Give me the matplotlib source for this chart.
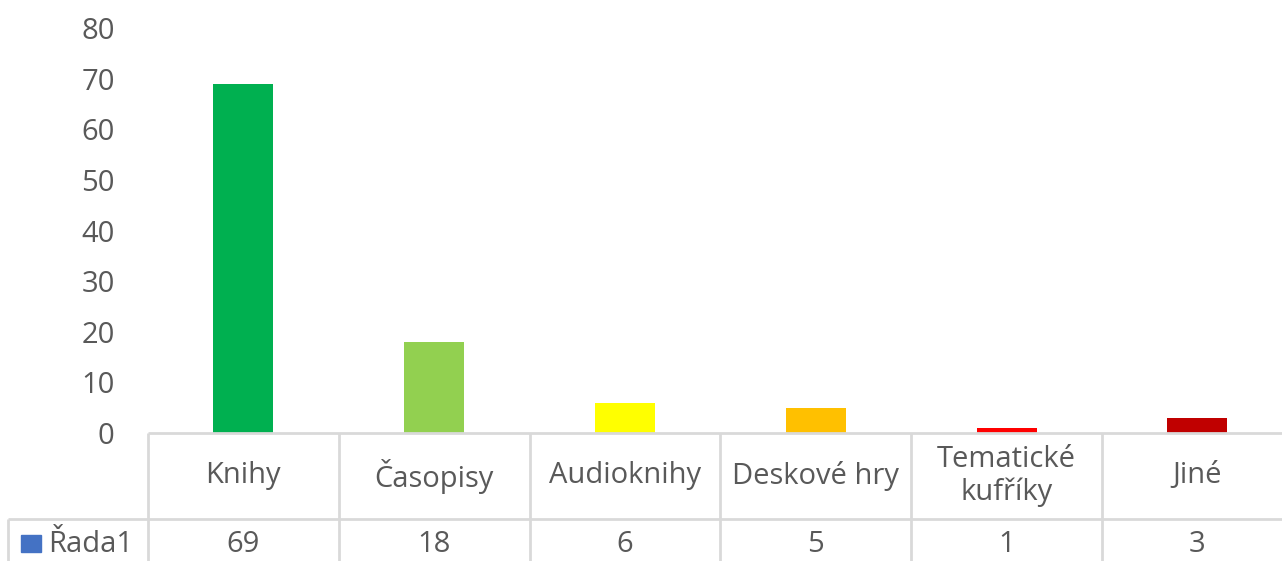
import matplotlib.pyplot as plt

# data
kategorie = ['Knihy', 'Časopisy', 'Audioknihy', 'Deskové hry', 'Tematické\nkufříky', 'Jiné']
hodnoty = [69, 18, 6, 5, 1, 3]
barvy = ['#00B050', '#92D050', '#FFFF00', '#FFC000', '#FF0000', '#C00000']
nazev_rady = 'Řada1'
osa_y = [0, 10, 20, 30, 40, 50, 60, 70, 80]

plt.rcParams['font.family'] = ['Open Sans', 'DejaVu Sans']
text_barva = '#595959'
cara_barva = '#D9D9D9'
fs = 21

W, H = 1282, 561
fig = plt.figure(figsize=(W / 100, H / 100), dpi=100)

# plot area: x from 148 px, one category = ~190.8 px, y 0 at 433 px, 80 at 28 px
sloupec = 190.8
ax = fig.add_axes([148 / W, 1 - 433 / H, 6 * sloupec / W, 405 / H])
x = range(len(hodnoty))
ax.bar(x, hodnoty, width=0.315, color=barvy)
ax.set_xlim(-0.5, 5.5)
ax.set_ylim(0, 80)
ax.set_yticks(osa_y)
ax.set_yticklabels([str(v) for v in osa_y], fontsize=fs, color=text_barva)
ax.tick_params(axis='y', length=0, pad=24)
ax.set_xticks([])
for s in ax.spines.values():
    s.set_visible(False)

# data table under the chart
tr = ax.get_xaxis_transform()
py = 405.0  # pixels per axes unit in y
r1 = -(519 - 433) / py
r_bot = -(600 - 433) / py
x_left = -0.5 - (148 - 8) / sloupec
kw = dict(color=cara_barva, lw=2, clip_on=False, transform=tr, solid_capstyle='butt')

ax.plot([-0.5, 6], [0, 0], **kw)
ax.plot([x_left, 6], [r1, r1], **kw)
ax.plot([x_left, x_left], [r1, r_bot], **kw)
for i in range(len(hodnoty) + 1):
    ax.plot([i - 0.5, i - 0.5], [0, r_bot], **kw)

y_kat = -(476 - 433) / py
y_hod = -(545 - 433) / py
for i, (k, v) in enumerate(zip(kategorie, hodnoty)):
    ax.text(i, y_kat, k, transform=tr, ha='center', va='center', fontsize=fs,
            color=text_barva, linespacing=1.18)
    ax.text(i, y_hod, str(v), transform=tr, ha='center', va='center', fontsize=fs,
            color=text_barva)

# legend key in the table
fig.patches.append(plt.Rectangle((21 / W, 1 - 552 / H), 20 / W, 17 / H,
                                 transform=fig.transFigure, color='#4472C4'))
fig.text(48 / W, 1 - 545 / H, nazev_rady, ha='left', va='center', fontsize=fs,
         color=text_barva)

fig.savefig('out.png', dpi=100)
